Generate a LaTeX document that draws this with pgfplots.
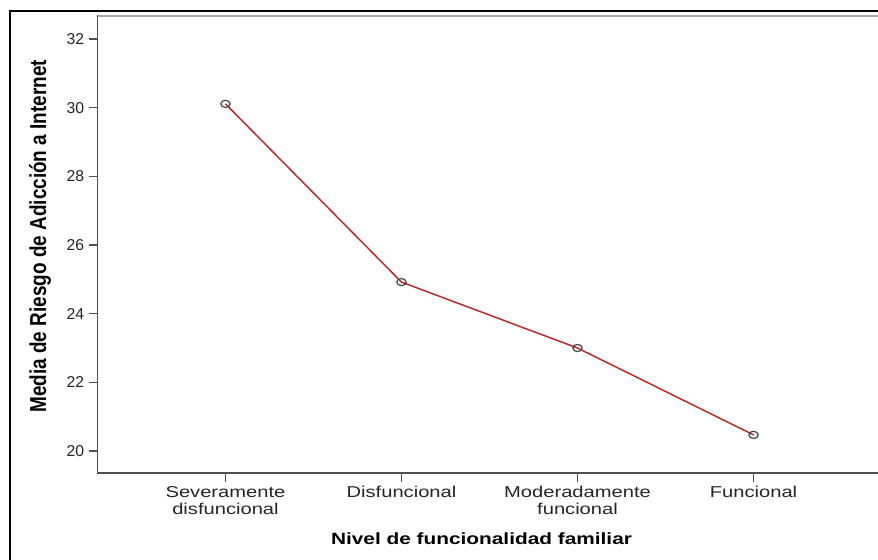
\documentclass[border=0pt]{standalone}
\usepackage{fontspec}
\setmainfont{Liberation Sans}
\newfontfamily\xtickfont[FakeStretch=1.28]{Liberation Sans}
\newfontfamily\xlabfont[FakeStretch=1.28]{Liberation Sans}
\usepackage{graphicx}
\usepackage{pgfplots}
\pgfplotsset{compat=1.18}
\definecolor{axgray}{RGB}{80,80,80}
\definecolor{linered}{RGB}{185,40,40}
\definecolor{mkgray}{RGB}{70,70,70}
\begin{document}
\begin{tikzpicture}
\useasboundingbox (0pt,0pt) rectangle (658.5pt,420pt);
\clip (0pt,0pt) rectangle (658.5pt,420pt);
\fill[white] (0pt,0pt) rectangle (658.5pt,420pt);
\draw[black, line width=1.5pt] (7.5pt,-5pt) -- (7.5pt,412.1pt) -- (670pt,412.1pt);
\begin{axis}[
  at={(73.125pt,65.25pt)}, anchor=south west, scale only axis,
  width=588pt, height=342.75pt,
  xmin=-0.727, xmax=3.727, ymin=19.36, ymax=32.67,
  xtick={0,1,2,3},
  xticklabels={{Severamente\\disfuncional},Disfuncional,{Moderadamente\\funcional},Funcional},
  ytick={20,22,24,26,28,30,32},
  tick align=outside, xtick pos=bottom, ytick pos=left,
  major tick length=6.5pt,
  axis line style={axgray, line width=1.1pt},
  tick style={axgray, line width=1.1pt},
  clip=false,
  yticklabel style={font=\fontsize{11.8}{14}\selectfont, text=black!85, /pgf/number format/assume math mode=true},
  xticklabel style={font=\xtickfont\fontsize{11.8}{12.75}\selectfont, align=center, text=black!85},
  xlabel={Nivel de funcionalidad familiar},
  xlabel style={font=\xlabfont\bfseries\fontsize{12.2}{14}\selectfont, at={(axis description cs:0.4898,-0.1575)}, anchor=base},
  ylabel={\scalebox{1}[1.22]{Media de Riesgo de Adicción a Internet}},
  ylabel style={font=\bfseries\fontsize{14.2}{16}\selectfont, at={(axis description cs:-0.0733,0.518)}, anchor=center},
]
\addplot[color=linered, line width=1.1pt, mark=o, mark size=2.7pt,
  mark options={solid, draw=mkgray, line width=0.9pt, xscale=1.3}]
  coordinates {(0,30.11) (1,24.92) (2,23.0) (3,20.47)};
\draw[gray!70, line width=1.1pt] (rel axis cs:0,1) -- (rel axis cs:1,1);
\end{axis}
\end{tikzpicture}
\end{document}
